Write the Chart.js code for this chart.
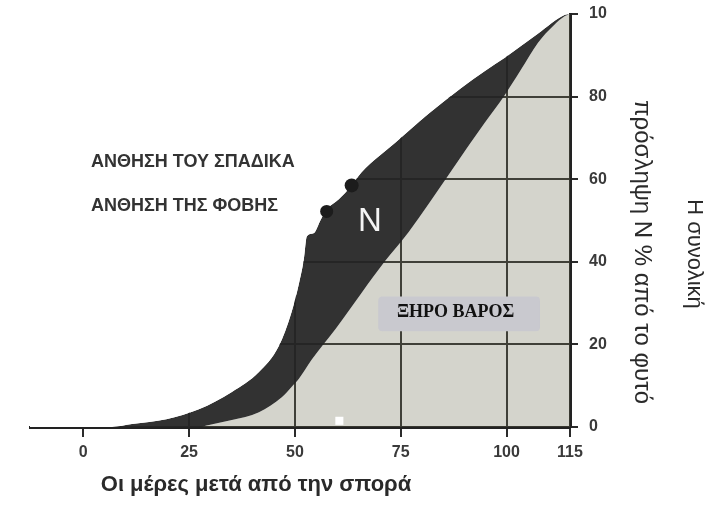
<!DOCTYPE html>
<html lang="el">
<head>
<meta charset="UTF-8">
<title>Πρόσληψη N και ξηρό βάρος</title>
<script src="https://cdn.jsdelivr.net/npm/chart.js@4.4.1/dist/chart.umd.min.js"></script>
<style>
  html, body { margin: 0; padding: 0; background: #fff; }
  .wrap { width: 721px; height: 510px; position: relative; }
</style>
</head>
<body>
<div class="wrap"><canvas id="chart"></canvas></div>
<script>
// πάνω καμπύλη (συνολική πρόσληψη N %)
const upperDays = [-12.6, 6.8, 11.5, 19.6, 27.3, 35.1, 41.5, 46.2, 49.2, 50.9, 52.1, 52.8, 54.4, 56.1, 57.7, 60.3, 63.4, 65.7, 73.7, 81.5, 89.3, 94.9, 99.6, 107.4, 113.8, 115];
const upperVals = [0, 0, 0.7, 1.9, 4.3, 8.5, 13.3, 19.6, 27.8, 34.5, 40.6, 46.1, 46.9, 50.2, 52.9, 55.1, 58.5, 61.6, 68.8, 75.8, 82.1, 86.2, 89.4, 95.2, 99.8, 100];

// κάτω καμπύλη (ξηρό βάρος)
const lowerDays = [-12.6, 27.3, 29.7, 35.1, 41.5, 46.9, 49.2, 50.9, 53.9, 59.6, 65.7, 71.4, 76.8, 86.7, 90.9, 94.9, 99.6, 103.4, 107.4, 111.2, 113.8, 115];
const lowerVals = [0, 0, 0.5, 1.7, 3.6, 7.2, 9.7, 11.6, 16.2, 23.7, 32.4, 40.3, 47.1, 61.6, 67.9, 73.7, 80.4, 86.5, 93.0, 97.3, 99.5, 100];

// άνθηση (φόβη, σπάδικας)
const flowerDays = [57.5, 63.4];
const flowerVals = [52.2, 58.5];

// μικρό λευκό σημάδι
const markDays = [60.5];
const markVals = [1.5];

const xTicks = [0, 25, 50, 75, 100, 115];
const yTicks = [0, 20, 40, 60, 80, 100];
const yTickLabels = ['0', '20', '40', '60', '80', '10'];

const toPoints = (xs, ys) => xs.map((x, i) => ({ x: x, y: ys[i] }));

const FONT = 'Liberation Sans, Arial, sans-serif';

const textPlugin = {
    id: 'texts',
    afterDatasetsDraw(chart) {
        const ctx = chart.ctx;
        const x = chart.scales.x;
        const y = chart.scales.y;
        ctx.save();

        // κουτί ΞΗΡΟ ΒΑΡΟΣ
        const bx1 = x.getPixelForValue(69.7), bx2 = x.getPixelForValue(107.9);
        const by1 = y.getPixelForValue(31.6), by2 = y.getPixelForValue(23.2);
        ctx.fillStyle = '#c9c9cf';
        ctx.beginPath();
        ctx.roundRect(bx1, by1, bx2 - bx1, by2 - by1, 4);
        ctx.fill();
        ctx.fillStyle = '#111';
        ctx.font = 'bold 18px "Liberation Serif", "Times New Roman", serif';
        ctx.textBaseline = 'alphabetic';
        ctx.textAlign = 'left';
        ctx.fillText('ΞΗΡΟ ΒΑΡΟΣ', x.getPixelForValue(74.1), y.getPixelForValue(26.6));

        // N
        ctx.fillStyle = '#f4f4f4';
        ctx.font = '33px ' + FONT;
        ctx.textAlign = 'center';
        ctx.textBaseline = 'middle';
        ctx.fillText('N', x.getPixelForValue(67.7), y.getPixelForValue(49.6));

        // ετικέτες άνθησης
        ctx.fillStyle = '#333';
        ctx.font = 'bold 18px ' + FONT;
        ctx.textAlign = 'left';
        ctx.textBaseline = 'alphabetic';
        ctx.fillText('ΑΝΘΗΣΗ ΤΟΥ ΣΠΑΔΙΚΑ', x.getPixelForValue(1.8), y.getPixelForValue(63.0));
        ctx.fillText('ΑΝΘΗΣΗ ΤΗΣ ΦΟΒΗΣ', x.getPixelForValue(1.8), y.getPixelForValue(52.3));
        ctx.restore();
    },
    afterDraw(chart) {
        const ctx = chart.ctx;
        const area = chart.chartArea;
        ctx.save();
        ctx.fillStyle = '#2a2a2a';
        ctx.textAlign = 'center';
        ctx.textBaseline = 'middle';
        ctx.font = 'bold 22px ' + FONT;
        ctx.fillText('Οι μέρες μετά από την σπορά', area.left + 226, 485);

        ctx.translate(area.right + 72, 252);
        ctx.rotate(Math.PI / 2);
        ctx.font = '24px ' + FONT;
        ctx.fillText('πρόσληψη N % από το φυτό', 0, 0);
        ctx.font = '22px ' + FONT;
        ctx.fillText('Η συνολική', 2, -52);
        ctx.restore();
    }
};

const fillLine = {
    borderColor: 'rgba(0,0,0,0)',
    borderWidth: 0,
    pointRadius: 0,
    cubicInterpolationMode: 'monotone'
};

new Chart(document.getElementById('chart'), {
    type: 'line',
    data: {
        datasets: [
            {
                label: 'Άνθηση',
                data: toPoints(flowerDays, flowerVals),
                showLine: false,
                pointRadius: [6.5, 7],
                pointBackgroundColor: '#1c1c1c',
                pointBorderWidth: 0,
                order: 0
            },
            {
                label: 'σημάδι',
                data: toPoints(markDays, markVals),
                showLine: false,
                pointStyle: 'rect',
                pointRadius: 5.7,
                pointBackgroundColor: '#ffffff',
                pointBorderWidth: 0,
                order: 0
            },
            Object.assign({
                label: 'πάνω',
                data: toPoints(upperDays, upperVals),
                fill: 'end',
                backgroundColor: '#ffffff',
                order: 1
            }, fillLine),
            Object.assign({
                label: 'N',
                data: toPoints(upperDays, upperVals),
                fill: 4,
                backgroundColor: 'rgba(37,37,37,0.94)',
                order: 2
            }, fillLine),
            Object.assign({
                label: 'Ξηρό βάρος',
                data: toPoints(lowerDays, lowerVals),
                fill: 'origin',
                backgroundColor: 'rgba(112,112,85,0.3)',
                order: 3
            }, fillLine)
        ]
    },
    options: {
        responsive: true,
        maintainAspectRatio: false,
        animation: false,
        layout: { padding: { left: 30, top: 14, right: 0, bottom: 0 } },
        plugins: {
            legend: { display: false },
            tooltip: { enabled: false }
        },
        scales: {
            x: {
                type: 'linear',
                min: -12.6,
                max: 115,
                afterBuildTicks: s => { s.ticks = xTicks.map(v => ({ value: v })); },
                afterFit: s => { s.height = 83; },
                grid: { color: '#2b2b2b', lineWidth: 2, tickLength: 10, tickColor: '#2b2b2b', tickWidth: 2 },
                border: { color: '#222', width: 3 },
                ticks: {
                    color: '#3a3a3a',
                    font: { family: FONT, size: 16, weight: 'bold' },
                    padding: 6,
                    maxRotation: 0,
                    autoSkip: false
                }
            },
            y: {
                type: 'linear',
                position: 'right',
                min: 0,
                max: 100,
                afterBuildTicks: s => { s.ticks = yTicks.map(v => ({ value: v })); },
                afterFit: s => {
                    s.width = 151;
                    s.paddingTop = 0;
                    s.paddingBottom = 0;
                },
                grid: {
                    color: c => (c.tick && c.tick.value === 100) ? 'rgba(0,0,0,0)' : '#2b2b2b',
                    lineWidth: 2,
                    tickLength: 8,
                    tickColor: '#2b2b2b',
                    tickWidth: 2
                },
                border: { color: '#222', width: 3 },
                ticks: {
                    callback: (v, i) => yTickLabels[i],
                    color: '#3a3a3a',
                    font: { family: FONT, size: 16, weight: 'bold' },
                    padding: 11,
                    autoSkip: false
                }
            }
        }
    },
    plugins: [textPlugin]
});
</script>
</body>
</html>
